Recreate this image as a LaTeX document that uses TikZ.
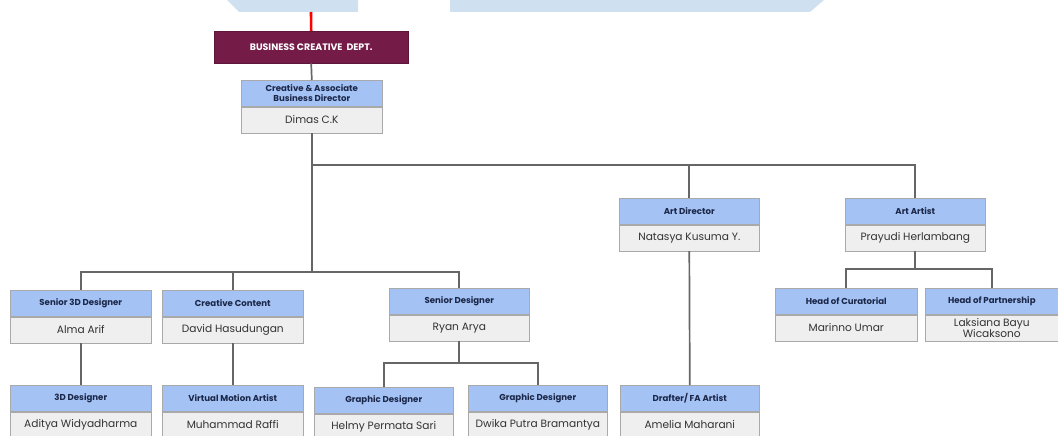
\documentclass[tikz,border=0pt]{standalone}
\usepackage{fontspec}
\setmainfont{Poppins}

\definecolor{deptred}{HTML}{741B47}
\definecolor{headblue}{HTML}{A4C2F4}
\definecolor{bodygray}{HTML}{EFEFEF}
\definecolor{edgegray}{HTML}{A9A9A9}
\definecolor{linkgray}{HTML}{666666}
\definecolor{titlenavy}{HTML}{1B2748}
\definecolor{bannerblue}{HTML}{CFE0F0}

% one position: name, x, y, width, title, person
\newcommand{\post}[6]{%
	\node [head, minimum width=#4, anchor=north west] (#1h) at (#2,#3) {#5};
	\node [body, minimum width=#4, anchor=north] (#1) at (#1h.south) {#6};
}

\begin{document}
\begin{tikzpicture}[x=1pt, y=-1pt,
	head/.style={draw=edgegray, line width=0.6pt, fill=headblue, minimum height=26pt, inner sep=1pt, align=center, text=titlenavy, font=\fontsize{8.6}{9.6}\selectfont\bfseries},
	body/.style={draw=edgegray, line width=0.6pt, fill=bodygray, minimum height=26pt, inner sep=1pt, align=center, text=black!80, font=\fontsize{10.6}{11.6}\selectfont},
	dept/.style={draw=deptred!80!black, fill=deptred, minimum width=194pt, minimum height=32pt, text=white, font=\fontsize{9.4}{11}\selectfont\bfseries},
	link/.style={draw=linkgray, line width=1.7pt},
	redlink/.style={draw=red, line width=2.6pt}]
	\useasboundingbox (0,0) rectangle (1058,436);

	\fill [bannerblue] (227,0) -- (358,0) -- (358,12) -- (239,12) -- cycle;
	\fill [bannerblue] (450,0) -- (824,0) -- (810,12) -- (450,12) -- cycle;

	\node [dept, anchor=north west] (dept) at (214,31) {BUSINESS CREATIVE\ \ DEPT.};
	\coordinate (top) at (311,12);

	\post{dir}{241}{80}{141pt}{Creative \& Associate\\Business Director}{Dimas C.K}
	\post{adir}{619}{198}{140pt}{Art Director}{Natasya Kusuma Y.}
	\post{aart}{845}{198}{140pt}{Art Artist}{Prayudi Herlambang}
	\post{sdd}{10}{290}{141pt}{Senior 3D Designer}{Alma Arif}
	\post{cc}{162}{290}{141pt}{Creative Content}{David Hasudungan}
	\post{sd}{389}{288}{140pt}{Senior Designer}{Ryan Arya}
	\post{hc}{775}{288}{142pt}{Head of Curatorial}{Marinno Umar}
	\post{hp}{925}{288}{133pt}{Head of Partnership}{Laksiana Bayu\\Wicaksono}
	\post{dd}{10}{385}{141pt}{3D Designer}{Aditya Widyadharma}
	\post{vma}{162}{385}{141pt}{Virtual Motion Artist}{Muhammad Raffi}
	\post{gda}{314}{387}{139pt}{Graphic Designer}{Helmy Permata Sari}
	\post{gdb}{468}{385}{139pt}{Graphic Designer}{Dwika Putra Bramantya}
	\post{fa}{620}{385}{139pt}{Drafter/ FA Artist}{Amelia Maharani}

	\draw [redlink] (top) -- (dept.north);
	\draw [link] (dept.south) -- (dirh.north);

	\draw [link] (dir.south) -- ++(0,32) -| (adirh.north);
	\draw [link] (dir.south) -- ++(0,32) -| (aarth.north);
	\draw [link] (dir.south) -- ++(0,139) -| (sddh.north);
	\draw [link] (dir.south) -- ++(0,139) -| (cch.north);
	\draw [link] (dir.south) -- ++(0,139) -| (sdh.north);

	\draw [link] (sdd.south) -- (ddh.north);
	\draw [link] (cc.south) -- (vmah.north);
	\draw [link] (sd.south) -- ++(0,22) -| (gdah.north);
	\draw [link] (sd.south) -- ++(0,22) -| (gdbh.north);
	\draw [link] (adir.south) -- (fah.north);
	\draw [link] (aart.south) -- ++(0,18) -| (hch.north);
	\draw [link] (aart.south) -- ++(0,18) -| (hph.north);
\end{tikzpicture}
\end{document}
